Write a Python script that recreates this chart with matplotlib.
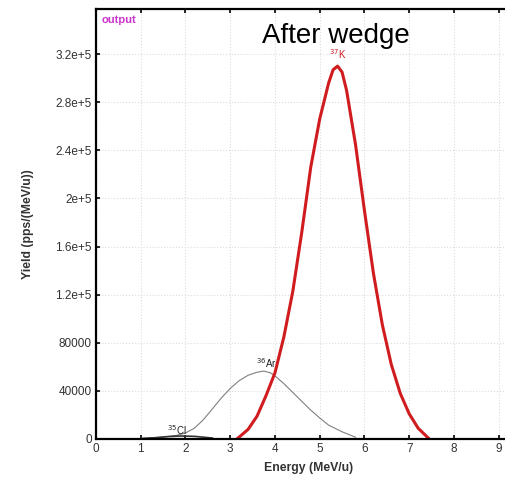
import matplotlib
matplotlib.use('Agg')
import matplotlib.pyplot as plt

plt.rcParams['font.family'] = ['Liberation Sans', 'DejaVu Sans']

# ── Data ────────────────────────────────────────────────────────────────────
k37_energy = [3.15, 3.4, 3.6, 3.8, 4.0, 4.2, 4.4, 4.6, 4.8, 5.0, 5.2, 5.3,
              5.4, 5.5, 5.6, 5.8, 6.0, 6.2, 6.4, 6.6, 6.8, 7.0, 7.2, 7.45]
k37_yield = [0, 8000, 19000, 36000, 55000, 85000, 123000, 172000, 226000,
             266000, 296000, 307000, 310000, 305000, 290000, 245000, 190000,
             138000, 95000, 62000, 38000, 21000, 9000, 0]

ar36_energy = [1.0, 1.5, 1.8, 2.0, 2.2, 2.4, 2.6, 2.8, 3.0, 3.2, 3.4, 3.6,
               3.75, 3.9, 4.0, 4.2, 4.5, 4.8, 5.0, 5.2, 5.5, 5.8]
ar36_yield = [500, 1500, 3000, 5000, 9000, 16000, 25000, 34000, 42000, 48500,
              53000, 55500, 56500, 55000, 52500, 46000, 35000, 24000, 17500,
              11500, 6000, 1500]

cl35_energy = [1.0, 1.3, 1.6, 1.9, 2.2, 2.6]
cl35_yield = [300, 1000, 2000, 2500, 2200, 800]

x_ticks = list(range(0, 10))
y_ticks = [0, 40000, 80000, 120000, 160000, 200000, 240000, 280000, 320000]
y_tick_labels = ['0', '40000', '80000', '1.2e+5', '1.6e+5', '2e+5',
                 '2.4e+5', '2.8e+5', '3.2e+5']

# ── Figure ──────────────────────────────────────────────────────────────────
fig = plt.figure(figsize=(5.06, 4.78), dpi=100)
ax = fig.add_axes([0.1897, 0.0816, 0.840, 0.8996])

ax.plot(ar36_energy, ar36_yield, color='#808080', lw=0.8)
ax.plot(cl35_energy, cl35_yield, color='#333333', lw=1.2)
ax.plot(k37_energy, k37_yield, color='#d01c1f', lw=2.2)

ax.text(5.4, 314000, r'$^{37}$K', color='#d01c1f', fontsize=7,
        ha='center', va='bottom')
ax.text(3.8, 57000, r'$^{36}$Ar', color='#222222', fontsize=7,
        ha='center', va='bottom')
ax.text(1.8, 1500, r'$^{35}$Cl', color='#222222', fontsize=7,
        ha='center', va='bottom')

ax.text(0.014, 0.985, 'output', transform=ax.transAxes, color='#cc33cc',
        fontsize=8, fontweight='bold', ha='left', va='top')
ax.text(0.565, 0.921, 'After wedge', transform=ax.transAxes, color='black',
        fontsize=20, ha='center', va='baseline')

ax.set_xlim(0, 9.5)
ax.set_ylim(0, 357500)
ax.set_xticks(x_ticks)
ax.set_yticks(y_ticks)
ax.set_yticklabels(y_tick_labels)

ax.grid(True, color='#dddddd', linestyle=':', linewidth=0.8)
ax.tick_params(direction='in', length=3, width=1.2, labelsize=8.5,
               colors='black', labelcolor='#333333', top=True, pad=3)
for spine in ax.spines.values():
    spine.set_linewidth(1.6)

ax.set_xlabel('Energy (MeV/u)', fontsize=8.8, fontweight='bold',
              color='#333333', labelpad=5)
ax.set_ylabel('Yield (pps/(MeV/u))', fontsize=8.8, fontweight='bold',
              color='#333333', labelpad=15)

fig.savefig('out.png', dpi=100)
